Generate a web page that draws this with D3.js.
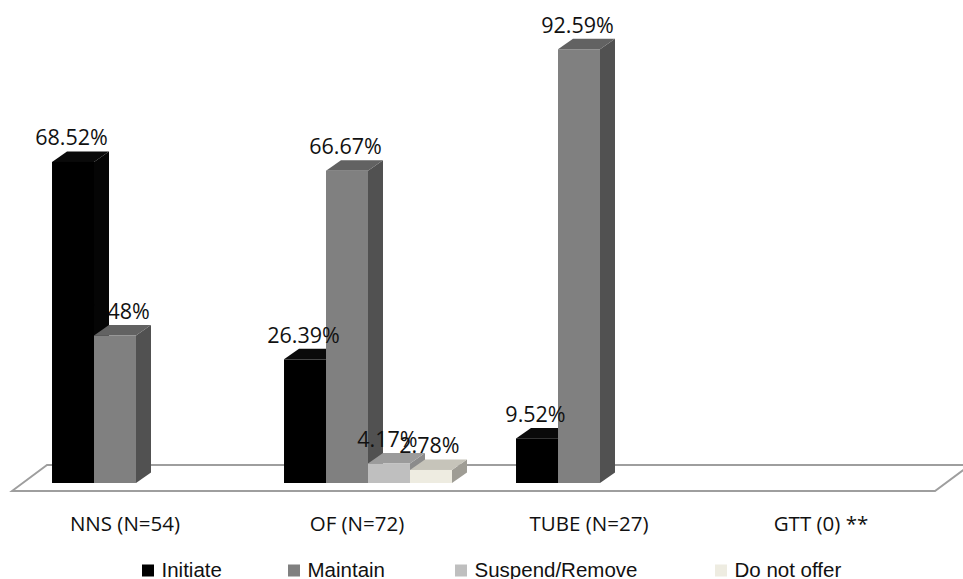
<!DOCTYPE html>
<html>
<head>
<meta charset="utf-8">
<script src="https://cdn.jsdelivr.net/npm/d3@7"></script>
<style>
  html, body { margin: 0; padding: 0; background: #fff; }
  svg { display: block; }
</style>
</head>
<body>
<svg id="chart" width="963" height="579"></svg>
<script>
// Feeding-practice outcomes by category (percent of infants)
const categories = ["NNS (N=54)", "OF (N=72)", "TUBE (N=27)", "GTT (0) **"];
const seriesNames = ["Initiate", "Maintain", "Suspend/Remove", "Do not offer"];
const initiate      = [68.52, 26.39, 9.52, 0];
const maintain      = [31.48, 66.67, 92.59, 0];
const suspendRemove = [0, 4.17, 0, 0];
const doNotOffer    = [0, 2.78, 0, 0];
const seriesValues = [initiate, maintain, suspendRemove, doNotOffer];

// face colours per series: front, top, side
const faceColors = [
  { front: "#000000", top: "#0a0a0a", side: "#050505" },
  { front: "#808080", top: "#626262", side: "#515151" },
  { front: "#bfbfbf", top: "#9b9b9b", side: "#8b8b8b" },
  { front: "#eeece1", top: "#c6c4ba", side: "#9f9d95" }
];

const svg = d3.select("#chart");

// perspective offset of a bar's top/side faces
const depthX = 15, depthY = -10.5;

const x0 = d3.scaleBand().domain(categories).range([20, 948]);
const innerW = x0.bandwidth() * 0.724;
const x1 = d3.scaleBand().domain(seriesNames)
  .range([(x0.bandwidth() - innerW) / 2, (x0.bandwidth() + innerW) / 2]);
const y = d3.scaleLinear().domain([0, 100]).range([483, 14.5]);

// floor of the 3-D plot area
const floorFront = 491, floorBack = 465;
svg.append("polygon")
  .attr("points", [[12, floorFront], [935, floorFront], [970, floorBack], [47, floorBack]].map(p => p.join(",")).join(" "))
  .attr("fill", "#fff")
  .attr("stroke", "#9e9e9e")
  .attr("stroke-width", 1.9);

const labelsUnder = svg.append("g");
const barsLayer = svg.append("g");
const labelsOver = svg.append("g");

// flatten into records
const records = [];
seriesNames.forEach((s, si) => {
  categories.forEach((c, ci) => {
    const v = seriesValues[si][ci];
    if (v > 0) records.push({ series: s, si, category: c, value: v });
  });
});

const bw = x1.bandwidth();
const pt = (a) => a.map(p => p.join(",")).join(" ");

records.forEach(d => {
  const xl = x0(d.category) + x1(d.series);
  const yt = y(d.value), yb = y(0);
  const g = barsLayer.append("g").attr("class", "bar");
  g.append("polygon")
    .attr("points", pt([[xl + bw, yt], [xl + bw + depthX, yt + depthY], [xl + bw + depthX, yb + depthY], [xl + bw, yb]]))
    .attr("fill", faceColors[d.si].side);
  g.append("polygon")
    .attr("points", pt([[xl, yt], [xl + bw, yt], [xl + bw + depthX, yt + depthY], [xl + depthX, yt + depthY]]))
    .attr("fill", faceColors[d.si].top);
  g.append("rect")
    .attr("x", xl).attr("y", yt)
    .attr("width", bw).attr("height", yb - yt)
    .attr("fill", faceColors[d.si].front);

  // the Maintain labels sit behind the neighbouring Initiate columns
  const layer = d.si === 1 ? labelsUnder : labelsOver;
  layer.append("text")
    .attr("x", xl + bw / 2 - 1.5)
    .attr("y", yt - 16.5)
    .attr("text-anchor", "middle")
    .attr("font-family", "'Open Sans', sans-serif")
    .attr("font-size", 21.5)
    .attr("fill", "#111")
    .text(d.value + "%");
});

// category labels along the front of the floor
svg.append("g").selectAll("text")
  .data(categories)
  .join("text")
  .attr("x", c => x0(c) + x0.bandwidth() / 2 - 11)
  .attr("y", 531)
  .attr("text-anchor", "middle")
  .attr("font-family", "'Open Sans', sans-serif")
  .attr("font-size", 20.5)
  .attr("fill", "#111")
  .text(c => c);

// legend
const legendX = [142, 288, 455, 715];
const legend = svg.append("g").selectAll("g")
  .data(seriesNames)
  .join("g")
  .attr("transform", (s, i) => `translate(${legendX[i]},564.5)`);
legend.append("rect")
  .attr("width", 12).attr("height", 12)
  .attr("fill", (s, i) => faceColors[i].front);
legend.append("text")
  .attr("x", 19.5).attr("y", 12)
  .attr("font-family", "'Liberation Sans', Arial, sans-serif")
  .attr("font-size", 20.5)
  .attr("fill", "#111")
  .text(s => s);
</script>
</body>
</html>
